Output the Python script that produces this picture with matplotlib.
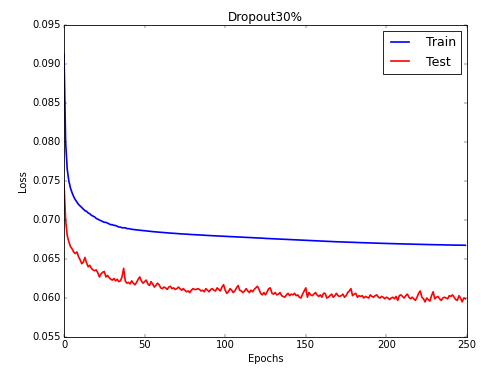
import matplotlib
matplotlib.use('Agg')
import matplotlib.pyplot as plt
from matplotlib.ticker import FormatStrFormatter

# loss values, one per epoch (0..249)
train_loss = [
    0.0913, 0.0800, 0.0765, 0.0750, 0.0741, 0.0735, 0.0730, 0.0726, 0.0723, 0.0720,
    0.0718, 0.0716, 0.0714, 0.0712, 0.0711, 0.0709, 0.0708, 0.0706, 0.0705, 0.0704,
    0.0702, 0.0701, 0.0700, 0.0699, 0.0698, 0.0697, 0.0697, 0.0696, 0.0695, 0.0694,
    0.0694, 0.0693, 0.0693, 0.0692, 0.0691, 0.0691, 0.0690, 0.0690, 0.0690, 0.0689,
    0.0689, 0.06885, 0.06881, 0.06879, 0.06876, 0.06873, 0.06871, 0.06869, 0.06867, 0.06865,
    0.06862, 0.06860, 0.06858, 0.06856, 0.06853, 0.06851, 0.06849, 0.06848, 0.06846, 0.06844,
    0.06842, 0.06841, 0.06839, 0.06837, 0.06836, 0.06834, 0.06832, 0.06831, 0.06829, 0.06828,
    0.06826, 0.06825, 0.06823, 0.06822, 0.06821, 0.06819, 0.06818, 0.06817, 0.06815, 0.06814,
    0.06813, 0.06812, 0.06810, 0.06809, 0.06808, 0.06807, 0.06806, 0.06805, 0.06803, 0.06802,
    0.06801, 0.06800, 0.06799, 0.06798, 0.06797, 0.06797, 0.06796, 0.06795, 0.06794, 0.06793,
    0.06792, 0.06790, 0.06789, 0.06788, 0.06787, 0.06786, 0.06785, 0.06784, 0.06782, 0.06781,
    0.06780, 0.06779, 0.06778, 0.06777, 0.06776, 0.06775, 0.06774, 0.06773, 0.06772, 0.06771,
    0.06770, 0.06768, 0.06769, 0.06767, 0.06765, 0.06764, 0.06763, 0.06762, 0.06761, 0.06760,
    0.06759, 0.06757, 0.06756, 0.06755, 0.06754, 0.06753, 0.06752, 0.06751, 0.06750, 0.06749,
    0.06748, 0.06747, 0.06746, 0.06745, 0.06744, 0.06743, 0.06742, 0.06741, 0.06740, 0.06739,
    0.06738, 0.06737, 0.06736, 0.06735, 0.06735, 0.06734, 0.06733, 0.06732, 0.06731, 0.06730,
    0.06729, 0.06728, 0.06728, 0.06727, 0.06726, 0.06725, 0.06724, 0.06723, 0.06722, 0.06721,
    0.06721, 0.06720, 0.06719, 0.06718, 0.06718, 0.06717, 0.06716, 0.06715, 0.06715, 0.06714,
    0.06713, 0.06712, 0.06712, 0.06711, 0.06710, 0.06709, 0.06709, 0.06708, 0.06707, 0.06707,
    0.06706, 0.06705, 0.06705, 0.06704, 0.06703, 0.06703, 0.06702, 0.06701, 0.06701, 0.06700,
    0.06699, 0.06699, 0.06698, 0.06698, 0.06697, 0.06696, 0.06696, 0.06695, 0.06695, 0.06694,
    0.06693, 0.06693, 0.06692, 0.06692, 0.06691, 0.06691, 0.06690, 0.06690, 0.06689, 0.06689,
    0.06688, 0.06688, 0.06687, 0.06687, 0.06686, 0.06686, 0.06685, 0.06685, 0.06684, 0.06684,
    0.06683, 0.06683, 0.06682, 0.06682, 0.06682, 0.06681, 0.06681, 0.06680, 0.06680, 0.06680,
    0.06679, 0.06679, 0.06678, 0.06678, 0.06678, 0.06677, 0.06677, 0.06677, 0.06676, 0.06676,
]

test_loss = [
    0.0746, 0.0700, 0.0680, 0.0672, 0.0666, 0.0663, 0.0659, 0.0657, 0.0659, 0.0653,
    0.0649, 0.0644, 0.0646, 0.0652, 0.0645, 0.0640, 0.0642, 0.0638, 0.0636, 0.0635,
    0.0636, 0.0632, 0.0627, 0.0631, 0.0633, 0.0634, 0.0627, 0.0629, 0.0626, 0.0624,
    0.0623, 0.0625, 0.0622, 0.0624, 0.0621, 0.0622, 0.0627, 0.0638, 0.0622, 0.0619,
    0.0620, 0.0618, 0.0622, 0.0619, 0.0617, 0.0620, 0.0624, 0.0627, 0.0622, 0.0619,
    0.0621, 0.0623, 0.0618, 0.0616, 0.0621, 0.0618, 0.0614, 0.0616, 0.0619, 0.0617,
    0.0613, 0.0612, 0.0614, 0.0613, 0.0611, 0.0614, 0.0615, 0.0612, 0.0613, 0.0611,
    0.0612, 0.0614, 0.0612, 0.0610, 0.0612, 0.0610, 0.0608, 0.0609, 0.0607, 0.0610,
    0.0612, 0.0611, 0.0611, 0.0612, 0.0611, 0.0609, 0.0610, 0.0608, 0.0612, 0.0610,
    0.0608, 0.0611, 0.0612, 0.0610, 0.0609, 0.0613, 0.0611, 0.0609, 0.0614, 0.0617,
    0.0610, 0.0606, 0.0608, 0.0612, 0.0610, 0.0607, 0.0609, 0.0613, 0.0616, 0.0610,
    0.0609, 0.0607, 0.0609, 0.0612, 0.0609, 0.0607, 0.0610, 0.0608, 0.0611, 0.0613,
    0.0615, 0.0611, 0.0606, 0.0604, 0.0607, 0.0604, 0.0608, 0.0612, 0.0613, 0.0606,
    0.0605, 0.0607, 0.0604, 0.0605, 0.0607, 0.0603, 0.0602, 0.0601, 0.0604, 0.0606,
    0.0603, 0.0605, 0.0604, 0.0606, 0.0603, 0.0604, 0.0601, 0.0600, 0.0605, 0.0609,
    0.0613, 0.0601, 0.0607, 0.0604, 0.0603, 0.0605, 0.0607, 0.0604, 0.0602, 0.0604,
    0.0601, 0.0606, 0.0606, 0.0600, 0.0601, 0.0603, 0.0605, 0.0601, 0.0603, 0.0606,
    0.0603, 0.0602, 0.0603, 0.0605, 0.0601, 0.0603, 0.0607, 0.0609, 0.0612, 0.0603,
    0.0605, 0.0606, 0.0601, 0.0603, 0.0602, 0.0603, 0.0600, 0.0602, 0.0601, 0.0600,
    0.0604, 0.0602, 0.0601, 0.0603, 0.0604, 0.0601, 0.0600, 0.0602, 0.0601, 0.0599,
    0.0601, 0.0600, 0.0598, 0.0600, 0.0601, 0.0599, 0.0602, 0.0597, 0.0603, 0.0604,
    0.0602, 0.0600, 0.0603, 0.0605, 0.0601, 0.0599, 0.0601, 0.0599, 0.0597, 0.0601,
    0.0606, 0.0609, 0.0601, 0.0599, 0.0595, 0.0600, 0.0598, 0.0596, 0.0603, 0.0608,
    0.0599, 0.0601, 0.0602, 0.0599, 0.0597, 0.0600, 0.0601, 0.0600, 0.0599, 0.0603,
    0.0602, 0.0604, 0.0601, 0.0598, 0.0597, 0.0603, 0.0600, 0.0595, 0.0600, 0.0599,
]

epochs = list(range(len(train_loss)))

plt.style.use('classic')
plt.rcParams['figure.facecolor'] = 'white'
plt.rcParams['savefig.facecolor'] = 'white'

fig = plt.figure(figsize=(481 / 60, 371 / 60), dpi=60)
ax = fig.add_axes([64 / 481, 34 / 371, 403 / 481, 312 / 371])

ax.plot(epochs, train_loss, color='b', linewidth=2, label='Train')
ax.plot(epochs, test_loss, color='r', linewidth=2, label='Test')

ax.set_xlim(0, 250)
ax.set_ylim(0.055, 0.095)
ax.yaxis.set_major_formatter(FormatStrFormatter('%.3f'))

ax.set_xlabel('Epochs')
ax.set_ylabel('Loss')
ax.set_title('Dropout30%')
ax.legend(loc='upper right', fontsize=15, handletextpad=1.05)

fig.savefig('out.png', dpi=60)
